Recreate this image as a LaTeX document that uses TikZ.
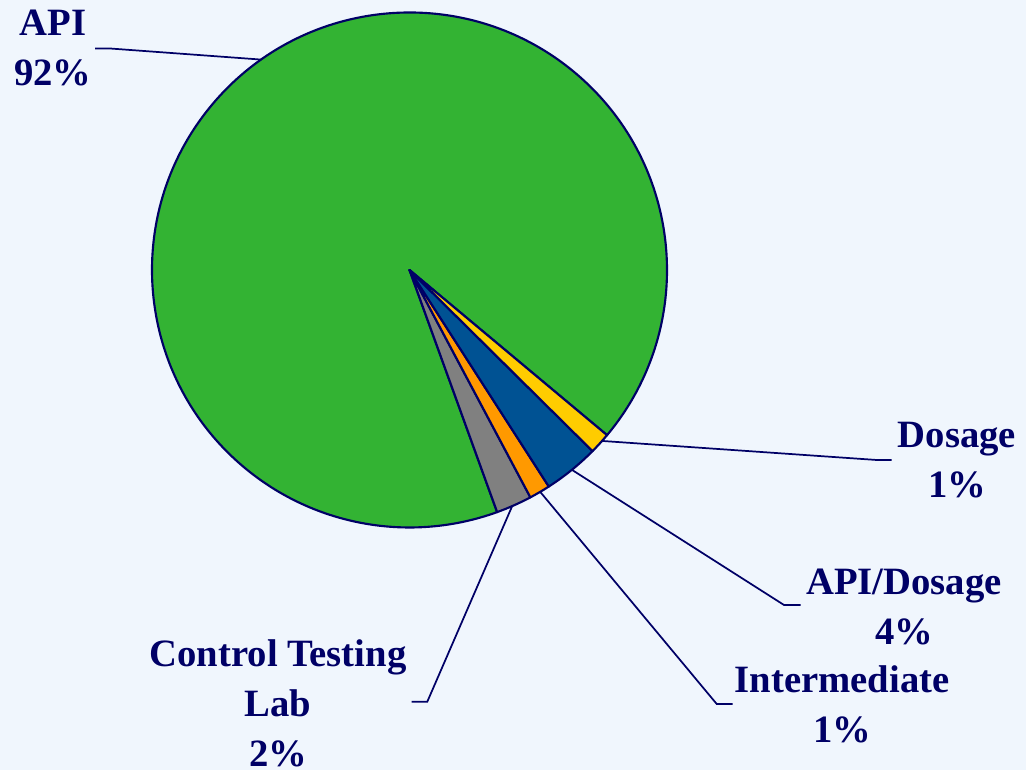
\documentclass[tikz,border=0pt]{standalone}
\usepackage{fontspec}
\setmainfont{Liberation Serif}
\usepackage{xcolor}
\usepackage{tikz}
\usetikzlibrary{positioning}

\definecolor{bgblue}{RGB}{240,246,253}
\definecolor{navy}{RGB}{0,0,102}
\definecolor{slgreen}{RGB}{51,179,51}
\definecolor{slblue}{RGB}{0,82,147}
\definecolor{slyellow}{RGB}{255,204,0}
\definecolor{slorange}{RGB}{255,153,0}
\definecolor{slgray}{RGB}{128,128,128}

\begin{document}
\begin{tikzpicture}
            [x=0.75pt,y=0.75pt,
             slice/.style={draw=navy, line width=1.6pt, line join=round},
             leader/.style={draw=navy, line width=1.3pt},
             every node/.style={text=navy, font=\bfseries\fontsize{29}{37.5}\selectfont, align=center, anchor=base, inner sep=0pt}]
            \fill[bgblue] (0,0) rectangle (1026,770);
            \useasboundingbox (0,0) rectangle (1026,770);
            \coordinate (c) at (409.5,500);

            % pie slices
            \foreach \a/\b/\col in {-39.9/289.9/slgreen, -70.1/-62/slgray, -62/-57.25/slorange, -57.25/-44.7/slblue, -44.7/-39.9/slyellow}
            \filldraw[slice, fill=\col] (c) -- ++(\a:257.5) arc[start angle=\a, end angle=\b, radius=257.5] -- cycle;

            % labels (base = last line)
            \node (api) at (53,684) {API\\92\%};
            \node (dos) at (957,272) {Dosage\\1\%};
            \node (apidos) at (904,125.7) {API/Dosage\\4\%};
            \node (inter) at (842,27.3) {Intermediate\\1\%};
            \node (ctl) at (278,3.3) {Control Testing\\Lab\\2\%};

            % leader lines
            \foreach \n/\ang/\bx/\by/\ex in {api/125.2/110/721.5/95, dos/-41.6/876.7/310/891.7, apidos/-50.9/784/165/800.7, inter/-59.5/716.7/66/732.7, ctl/-66.5/427.3/68.3/411.7}
            {
              \path (c) ++(\ang:257.5) coordinate (\n-rim);
              \coordinate (\n-bend) at (\bx,\by);
              \coordinate (\n-end) at (\ex,\by);
              \draw[leader] (\n-rim) -- (\n-bend) -- (\n-end);
            }
          \end{tikzpicture}
\end{document}
